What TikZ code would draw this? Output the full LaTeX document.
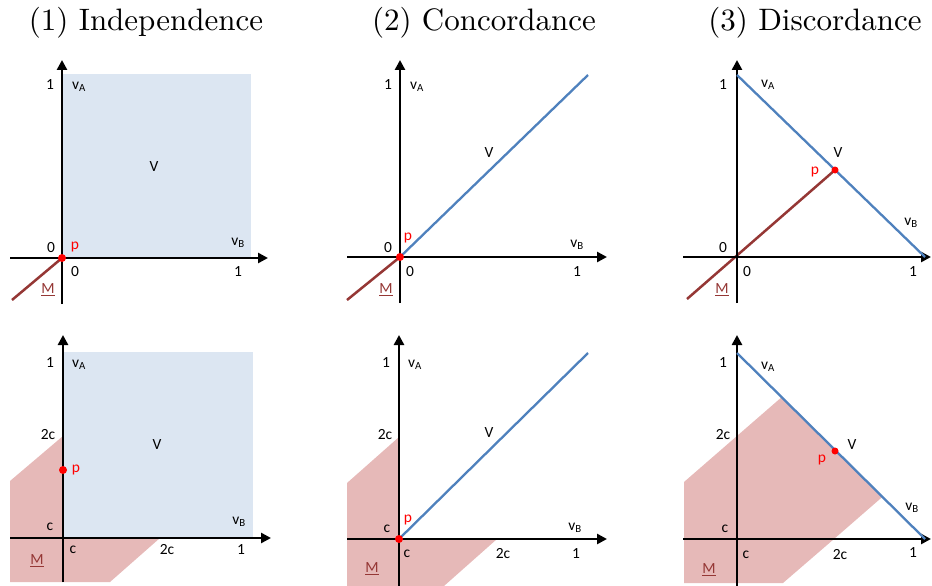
\documentclass[tikz,border=0pt]{standalone}
\usepackage{fontspec}
\newfontfamily\labfont{Carlito}
\newfontfamily\ttlfont[Extension=.otf]{lmroman10-regular}
\usepackage{xcolor}
\usepackage{tikz}
\usetikzlibrary{arrows.meta}

\definecolor{vfill}{HTML}{DCE6F2}
\definecolor{vblue}{HTML}{4F81BD}
\definecolor{mpink}{HTML}{E6B9B8}
\definecolor{mbrown}{HTML}{953735}

\begin{document}
\begin{tikzpicture}[
x=1pt, y=1pt,
ax/.style={line width=2.6pt, -{Triangle[length=10pt,width=10pt]}},
vln/.style={draw=vblue, line width=2.3pt},
mln/.style={draw=mbrown, line width=2.5pt},
lab/.style={font=\labfont\fontsize{15.5}{17}\selectfont, inner sep=0pt},
plab/.style={lab, text=red},
mlab/.style={lab, text=mbrown},
ttl/.style={font=\ttlfont\fontsize{31}{36}\selectfont, anchor=base, inner sep=0pt},
pdot/.style={circle, fill=red, inner sep=0pt, minimum size=8pt}
]
\useasboundingbox (0,0) rectangle (932,-586);

% titles
\node[ttl] (t1) at (146,-31) {(1) Independence};
\node[ttl] (t2) at (484,-31) {(2) Concordance};
\node[ttl] (t3) at (815,-31) {(3) Discordance};

% (1) top
\begin{scope}[shift={(62,-258)}]
\coordinate (o1) at (0,0);
\fill[vfill] (o1) rectangle (189,184);
\draw[mln] (o1) -- (-50,-42);
\draw[ax] (-52,0) -- (206,0);
\draw[ax] (0,-46) -- (0,198);
\node[pdot] (p1) at (o1) {};
\node[lab] (one1) at (-12,173) {1};
\node[lab] (va1) at (17,171) {v\textsubscript{A}};
\node[lab] (v1) at (92,91) {V};
\node[lab] (z1) at (-11,10) {0};
\node[plab] (pl1) at (13,11) {p};
\node[lab] (vb1) at (176,15) {v\textsubscript{B}};
\node[lab] (zb1) at (13,-14) {0};
\node[lab] (oneb1) at (176,-14) {1};
\node[mlab] (m1) at (-14,-32) {\underline{M}};
\end{scope}

% (2) top
\begin{scope}[shift={(400,-257)}]
\coordinate (o2) at (0,0);
\draw[mln] (o2) -- (-53,-43);
\draw[ax] (-53,0) -- (207,0);
\draw[ax] (0,-46) -- (0,197);
\draw[vln] (o2) -- (188,182);
\node[pdot] (p2) at (o2) {};
\node[lab] (one2) at (-12,172) {1};
\node[lab] (va2) at (17,170) {v\textsubscript{A}};
\node[lab] (v2) at (89,104) {V};
\node[lab] (z2) at (-12,9) {0};
\node[plab] (pl2) at (8,19) {p};
\node[lab] (vb2) at (177,12) {v\textsubscript{B}};
\node[lab] (zb2) at (10,-15) {0};
\node[lab] (oneb2) at (177,-15) {1};
\node[mlab] (m2) at (-14,-33) {\underline{M}};
\end{scope}

% (3) top
\begin{scope}[shift={(737,-257)}]
\coordinate (o3) at (0,0);
\coordinate (q3) at (98,87);
\draw[mln] (-50,-42) -- (q3);
\draw[ax] (-54,0) -- (194,0);
\draw[ax] (0,-46) -- (0,197);
\draw[vln] (0,182) -- (188,0);
\node[pdot, minimum size=7pt] (p3) at (q3) {};
\node[lab] (one3) at (-14,172) {1};
\node[lab] (va3) at (31,172) {v\textsubscript{A}};
\node[lab] (v3) at (101,104) {V};
\node[plab] (pl3) at (78,85) {p};
\node[lab] (vb3) at (174,34) {v\textsubscript{B}};
\node[lab] (z3) at (-14,9) {0};
\node[lab] (zb3) at (10,-15) {0};
\node[lab] (oneb3) at (176,-15) {1};
\node[mlab] (m3) at (-15,-33) {\underline{M}};
\end{scope}

% (1) bottom
\begin{scope}[shift={(63,-538)}]
\coordinate (o4) at (0,0);
\fill[mpink] (0,102) -- (-53,57) -- (-53,-44) -- (47,-44) -- (97,0) -- (o4) -- cycle;
\fill[vfill] (o4) rectangle (190,186);
\draw[ax] (-53,0) -- (208,0);
\draw[ax] (0,-44) -- (0,203);
\node[pdot] (p4) at (0,68) {};
\node[lab] (one4) at (-13,175) {1};
\node[lab] (va4) at (16,173) {v\textsubscript{A}};
\node[lab] (tc4) at (-15,103) {2c};
\node[lab] (v4) at (94,93) {V};
\node[plab] (pl4) at (13,68) {p};
\node[lab] (c4) at (-13,11) {c};
\node[lab] (vb4) at (176,16) {v\textsubscript{B}};
\node[lab] (cb4) at (10,-12) {c};
\node[lab] (tcb4) at (104,-12) {2c};
\node[lab] (oneb4) at (178,-12) {1};
\node[mlab] (m4) at (-26,-23) {\underline{M}};
\end{scope}

% (2) bottom
\begin{scope}[shift={(399,-539)}]
\coordinate (o5) at (0,0);
\fill[mpink] (0,102) -- (-52,56) -- (-52,-47) -- (45,-47) -- (98,0) -- (o5) -- cycle;
\draw[ax] (-52,0) -- (208,0);
\draw[ax] (0,-47) -- (0,204);
\draw[vln] (o5) -- (189,186);
\node[pdot] (p5) at (o5) {};
\node[lab] (one5) at (-13,176) {1};
\node[lab] (va5) at (16,174) {v\textsubscript{A}};
\node[lab] (tc5) at (-14,104) {2c};
\node[lab] (v5) at (90,106) {V};
\node[plab] (pl5) at (9,19) {p};
\node[lab] (c5) at (-12,10) {c};
\node[lab] (vb5) at (176,11) {v\textsubscript{B}};
\node[lab] (cb5) at (8,-15) {c};
\node[lab] (tcb5) at (104,-15) {2c};
\node[lab] (oneb5) at (177,-15) {1};
\node[mlab] (m5) at (-27,-30) {\underline{M}};
\end{scope}

% (3) bottom
\begin{scope}[shift={(737,-539)}]
\coordinate (o6) at (0,0);
\coordinate (q6) at (98,88);
\fill[mpink] (-53,57) -- (44.6,141.8) -- (145.5,42.2) -- (97,0) -- (46,-44) -- (-53,-44) -- cycle;
\draw[ax] (-54,0) -- (194,0);
\draw[ax] (0,-47) -- (0,204);
\draw[vln] (0,186) -- (188,0);
\node[pdot, minimum size=7pt] (p6) at (q6) {};
\node[lab] (one6) at (-14,176) {1};
\node[lab] (va6) at (31,172) {v\textsubscript{A}};
\node[lab] (tc6) at (-14,104) {2c};
\node[lab] (v6) at (115,94) {V};
\node[plab] (pl6) at (85,79) {p};
\node[lab] (vb6) at (175,31) {v\textsubscript{B}};
\node[lab] (c6) at (-12,10) {c};
\node[lab] (cb6) at (9,-16) {c};
\node[lab] (tcb6) at (103,-16) {2c};
\node[lab] (oneb6) at (176,-14) {1};
\node[mlab] (m6) at (-28,-31) {\underline{M}};
\end{scope}
\end{tikzpicture}
\end{document}
